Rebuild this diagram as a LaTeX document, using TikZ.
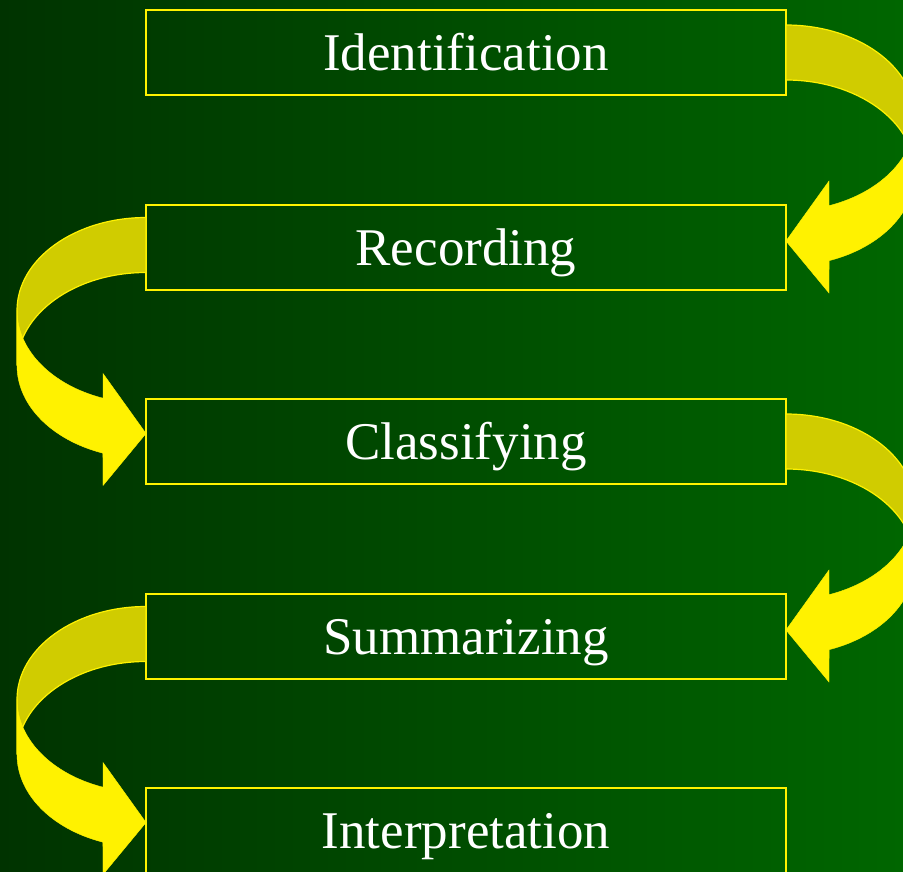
\documentclass[tikz,border=0pt]{standalone}
\usepackage{fontspec}
\setmainfont{Liberation Serif}
\usetikzlibrary{positioning,calc}
\definecolor{bgleft}{RGB}{0,51,0}
\definecolor{bgright}{RGB}{0,102,0}
\definecolor{backband}{RGB}{208,204,0}
% one bent arrow, drawn from its upper end at (0,0), bulging to the right
\newcommand\bendarrow{%
\filldraw[fill=backband,draw=yellow,line width=1.2pt] (0,0)
  arc[start angle=-90,end angle=0,x radius=129,y radius=93] -- (129,148)
  arc[start angle=0,end angle=-90,x radius=129,y radius=93] -- cycle;
\filldraw[yellow,line width=0.4pt] (129,93) -- (129,148)
  arc[start angle=0,end angle=70.5,x radius=129,y radius=93]
  -- (43,268) -- (0,216) -- (43,156) -- (43,180.7)
  arc[start angle=70.5,end angle=0,x radius=129,y radius=93] -- cycle;
}
\newcommand\turnright[1]{%
\begin{scope}[shift={($(#1.north east)+(0,15)$)}]
  \bendarrow
\end{scope}
}
\newcommand\turnleft[1]{%
\begin{scope}[shift={($(#1.north west)+(0,13)$)},xscale=-1]
  \bendarrow
\end{scope}
}

\begin{document}
\begin{tikzpicture}[x=1pt,y=-1pt,node distance=109.5pt,
  stage/.style={draw=yellow,line width=2pt,outer sep=0pt,
    minimum width=640pt,minimum height=85pt,text=white,
    font=\fontsize{53}{60}\selectfont,text height=36pt,text depth=0pt}]
	%% background
	\path[use as bounding box] (0,0) rectangle (903,871);
	\clip (0,0) rectangle (903,871);
	\shade[left color=bgleft,right color=bgright] (0,0) rectangle (903,871);

	% the five steps
	\node[stage] (ident) at (466,52.5) {Identification};
	\node[stage,below=of ident] (record) {Recording};
	\node[stage,below=of record] (classify) {Classifying};
	\node[stage,below=of classify] (summ) {Summarizing};
	\node[stage,below=of summ] (interp) {Interpretation};

	% bent arrows between them
	\turnright{ident}
	\turnleft{record}
	\turnright{classify}
	\turnleft{summ}
\end{tikzpicture}
\end{document}
